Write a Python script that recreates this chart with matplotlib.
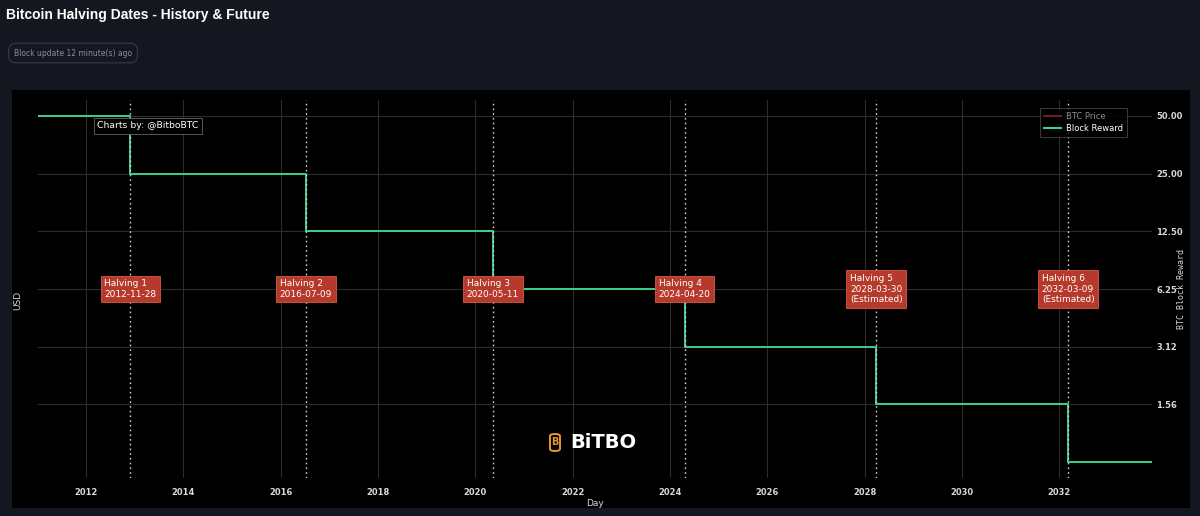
import numpy as np
import pandas as pd
import matplotlib
matplotlib.use("Agg")
import matplotlib.pyplot as plt
import matplotlib.dates as mdates
from matplotlib.patches import FancyBboxPatch, Rectangle
from matplotlib.lines import Line2D

# data
step_dates = ["2011-01-05", "2012-11-28", "2016-07-09", "2020-05-11",
              "2024-04-20", "2028-03-30", "2032-03-09", "2033-11-28"]
rewards = [50, 25, 12.5, 6.25, 3.125, 1.5625, 0.78125, 0.78125]

halving_names = ["Halving 1", "Halving 2", "Halving 3", "Halving 4", "Halving 5", "Halving 6"]
halving_dates = ["2012-11-28", "2016-07-09", "2020-05-11", "2024-04-20", "2028-03-30", "2032-03-09"]
halving_estimated = [False, False, False, False, True, True]

y_ticks = [50, 25, 12.5, 6.25, 3.125, 1.5625]
y_tick_labels = ["50.00", "25.00", "12.50", "6.25", "3.12", "1.56"]
x_years = [2012, 2014, 2016, 2018, 2020, 2022, 2024, 2026, 2028, 2030, 2032]

BG = "#14171f"
GREEN = "#3ecf8e"
GRID = "#2c2c2c"

plt.rcParams['font.family'] = ['DejaVu Sans']

fig = plt.figure(figsize=(12, 5.16), dpi=100, facecolor=BG)

# black chart panel
fig.patches.append(Rectangle((12 / 1200, 8 / 516), 1178 / 1200, 418 / 516,
                             transform=fig.transFigure, facecolor="black",
                             edgecolor="none", zorder=-5))

ax = fig.add_axes([38 / 1200, 38 / 516, 1114 / 1200, 378 / 516])
ax.set_facecolor("black")
for s in ax.spines.values():
    s.set_visible(False)

x = pd.to_datetime(step_dates)
ax.step(x, rewards, where="post", color=GREEN, lw=1.4, zorder=3)

ax.set_yscale("log")
ax.set_ylim(0.6446, 60.6)
ax.set_xlim(x[0], x[-1])

ax.yaxis.tick_right()
ax.set_yticks(y_ticks)
ax.set_yticklabels(y_tick_labels)
ax.yaxis.set_minor_locator(matplotlib.ticker.NullLocator())
ax.set_xticks([pd.Timestamp(f"{y}-01-01") for y in x_years])
ax.set_xticklabels([str(y) for y in x_years])
ax.tick_params(axis="both", colors="#d8d8d8", labelsize=6, length=0)
ax.tick_params(axis="x", pad=7)
ax.tick_params(axis="y", pad=3)
for lab in ax.get_xticklabels() + ax.get_yticklabels():
    lab.set_fontweight("bold")
ax.grid(True, color=GRID, lw=0.8)
ax.set_axisbelow(True)

ax.set_xlabel("Day", color="#d8d8d8", fontsize=6.5, labelpad=2)

# halving lines and labels
for name, d, est in zip(halving_names, halving_dates, halving_estimated):
    dt = pd.Timestamp(d)
    ax.axvline(dt, color="#cfcfcf", lw=1.0, ls=(0, (1.2, 2.2)), zorder=4)
    txt = name + "\n" + d + ("\n(Estimated)" if est else "")
    ax.text(dt, 6.25, txt, ha="center", va="center", multialignment="left",
            fontsize=6.5, color="white", zorder=6, linespacing=1.25,
            bbox=dict(boxstyle="square,pad=0.4", facecolor="#b53a2c",
                      edgecolor="#d65a4c", lw=0.6))

# legend
handles = [Line2D([], [], color="#6e1f1f", lw=1.5),
           Line2D([], [], color=GREEN, lw=1.5)]
leg = fig.legend(handles, ["BTC Price", "Block Reward"], loc="upper right",
                 bbox_to_anchor=(1131 / 1200, 1 - 104 / 516), fontsize=6,
                 frameon=True, facecolor="black", edgecolor="#555555",
                 handlelength=2.0, borderpad=0.5, labelspacing=0.3,
                 handletextpad=0.6, fancybox=False)
leg.get_frame().set_linewidth(0.6)
leg.get_texts()[0].set_color("#8a8a8a")
leg.get_texts()[1].set_color("white")
leg.set_zorder(10)

# watermark texts
fig.text(97 / 1200, 1 - 126 / 516, "Charts by: @BitboBTC", fontsize=6.7,
         color="white", va="center", ha="left", zorder=10,
         bbox=dict(boxstyle="square,pad=0.35", facecolor="black",
                   edgecolor="#666666", lw=0.6))

fig.text(570 / 1200, 1 - 442 / 516, "BiTBO", fontsize=14, fontweight="bold",
         color="white", va="center", ha="left", zorder=10)
fig.patches.append(FancyBboxPatch((550 / 1200, 1 - 451 / 516), 10 / 1200, 17 / 516,
                                  boxstyle="round,pad=0,rounding_size=0.004",
                                  transform=fig.transFigure, facecolor="none",
                                  edgecolor="#e8952f", lw=1.4, zorder=10))
fig.text(555 / 1200, 1 - 442 / 516, "B", fontsize=7, fontweight="bold",
         color="#e8952f", va="center", ha="center", zorder=11)

# axis titles
fig.text(18 / 1200, 1 - 300 / 516, "USD", rotation=90, fontsize=6.5,
         color="#d8d8d8", va="center", ha="center")
fig.text(1182 / 1200, 1 - 289 / 516, "BTC Block Reward", rotation=90,
         fontsize=6, color="#d8d8d8", va="center", ha="center",
         family="DejaVu Sans Mono")

# header
fig.text(6 / 1200, 1 - 15 / 516, "Bitcoin Halving Dates - History & Future",
         fontsize=10, fontweight="bold", color="white", va="center",
         ha="left", family=["Liberation Sans Narrow", "Liberation Sans", "DejaVu Sans"])
fig.text(14 / 1200, 1 - 53 / 516, "Block update 12 minute(s) ago", fontsize=5.5,
         color="#8a8f9c", va="center", ha="left",
         bbox=dict(boxstyle="round,pad=0.7,rounding_size=1.0", facecolor="none",
                   edgecolor="#363b48", lw=0.8))

fig.savefig("out.png", dpi=100, facecolor=BG)
